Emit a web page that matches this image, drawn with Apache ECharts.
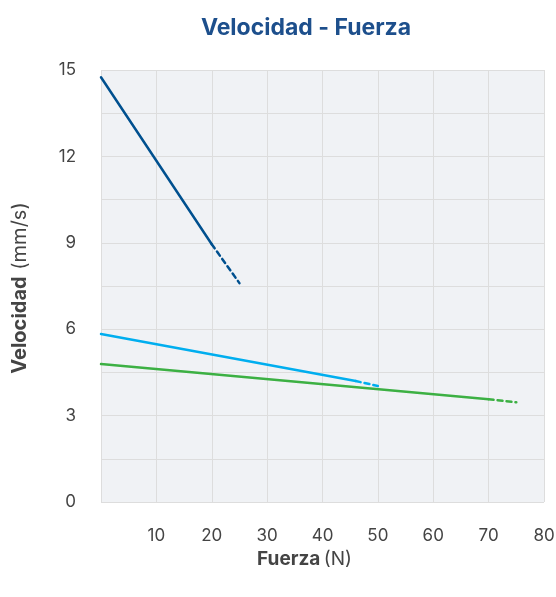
<!DOCTYPE html>
<html><head><meta charset="utf-8">
<script src="https://cdn.jsdelivr.net/npm/echarts@6/dist/echarts.min.js"></script>
<style>html,body{margin:0;padding:0;background:#fff}#c{width:556px;height:597px}</style>
</head><body><div id="c"></div>
<script>
// Data (Fuerza N, Velocidad mm/s)
const darkSolid = [[0, 14.75], [20, 8.95]];
const darkDash = [[20, 8.95], [25, 7.6]];
const lightSolid = [[0, 5.83], [46, 4.2]];
const lightDash = [[46, 4.2], [50, 4.03]];
const greenSolid = [[0, 4.79], [70, 3.57]];
const greenDash = [[70, 3.57], [75, 3.46]];

const DARK = '#00508f', LIGHT = '#00aeef', GREEN = '#3cb043';
const FONT = 'Inter';
function line(data, color, dashed) {
  return { type: 'line', data: data, symbol: 'none', silent: true,
    lineStyle: { color: color, width: 2.5, type: dashed ? [5, 4] : 'solid', cap: 'round' } };
}
const chart = echarts.init(document.getElementById('c'), null, { renderer: 'canvas' });
chart.setOption({
  animation: false,
  title: { text: 'Velocidad - Fuerza', left: 301, top: 12, textAlign: 'center',
    textStyle: { fontFamily: FONT, fontWeight: 'bold', fontSize: 23, color: '#1d4f8c' } },
  grid: { left: 101, right: 12, top: 70, bottom: 95, show: true, backgroundColor: '#f0f2f5', borderWidth: 0,
    containLabel: false, outerBoundsMode: 'none' },
  xAxis: { type: 'value', min: 0, max: 80, interval: 10,
    axisLine: { show: false }, axisTick: { show: false },
    splitLine: { lineStyle: { color: '#dddddd', width: 1 } },
    axisLabel: { color: '#444', fontSize: 17, fontFamily: FONT, margin: 25,
      formatter: v => v === 0 ? '' : String(v) },
    name: '{b|Fuerza} {n|(N)}', nameLocation: 'middle', nameGap: 48,
    nameTextStyle: { padding: [0, 36, 0, 0], rich: {
      b: { fontFamily: FONT, fontWeight: 'bold', fontSize: 19, color: '#444' },
      n: { fontFamily: FONT, fontSize: 19, color: '#444' } } } },
  yAxis: { type: 'value', min: 0, max: 15, interval: 1.5,
    axisLine: { show: false }, axisTick: { show: false },
    splitLine: { lineStyle: { color: '#dddddd', width: 1 } },
    axisLabel: { color: '#444', fontSize: 17, fontFamily: FONT, margin: 25,
      formatter: v => (Math.abs(v / 3 - Math.round(v / 3)) < 1e-6) ? String(Math.round(v)) : '' },
    name: '{b|Velocidad}  {n|(mm/s)}', nameLocation: 'middle', nameRotate: 90, nameGap: 71,
    nameTextStyle: { padding: [0, 4, 0, 0], rich: {
      b: { fontFamily: FONT, fontWeight: 'bold', fontSize: 20, color: '#444' },
      n: { fontFamily: FONT, fontSize: 20, color: '#444' } } } },
  series: [
    line(darkSolid, DARK, false), line(darkDash, DARK, true),
    line(lightSolid, LIGHT, false), line(lightDash, LIGHT, true),
    line(greenSolid, GREEN, false), line(greenDash, GREEN, true)
  ]
});
</script></body></html>
